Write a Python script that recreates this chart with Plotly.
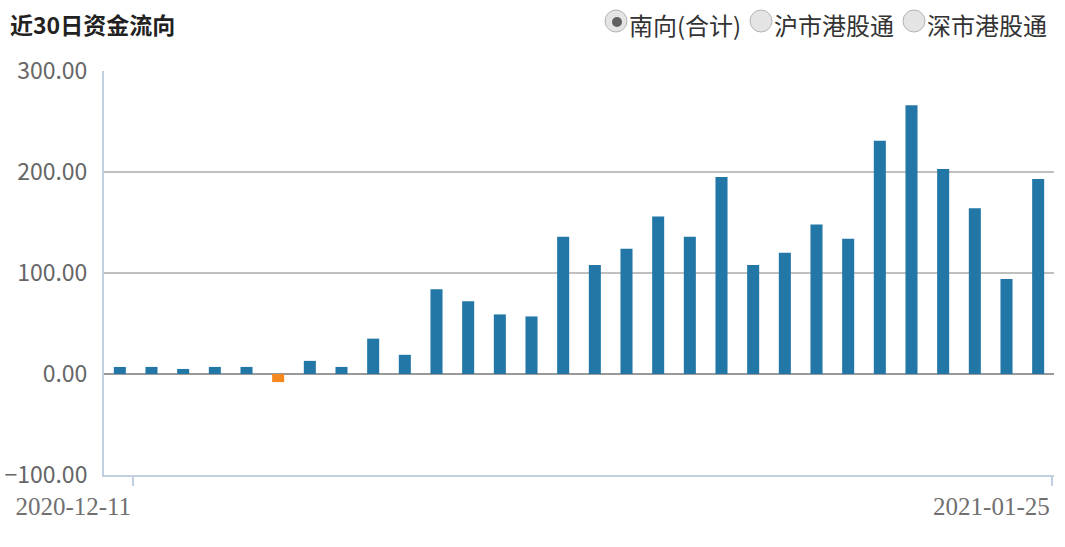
import plotly.graph_objects as go

W, H = 1065, 547
L, R, T, B = 104, 11, 71, 72

# trading days of the last 30 sessions
dates = ['2020-12-11', '2020-12-14', '2020-12-15', '2020-12-16', '2020-12-17',
         '2020-12-18', '2020-12-21', '2020-12-22', '2020-12-23', '2020-12-24',
         '2020-12-28', '2020-12-29', '2020-12-30', '2020-12-31', '2021-01-04',
         '2021-01-05', '2021-01-06', '2021-01-07', '2021-01-08', '2021-01-11',
         '2021-01-12', '2021-01-13', '2021-01-14', '2021-01-15', '2021-01-18',
         '2021-01-19', '2021-01-20', '2021-01-21', '2021-01-22', '2021-01-25']

# southbound net flow (100m HKD)
net_flow = [7, 7, 5, 7, 7, -8, 13, 7, 35, 19,
            84, 72, 59, 57, 136, 108, 124, 156, 136, 195,
            108, 120, 148, 134, 231, 266, 203, 164, 94, 193]

y_ticks = [-100, 0, 100, 200, 300]
radio_labels = ['南向(合计)', '沪市港股通', '深市港股通']

BLUE = '#2277a6'
ORANGE = '#f5871f'


def px_x(p):
    return (p - L) / (W - L - R)


def px_y(p):
    return (H - B - p) / (H - T - B)


x_idx = list(range(len(dates)))
colors = [BLUE if v >= 0 else ORANGE for v in net_flow]

fig = go.Figure()
fig.add_trace(go.Bar(
    x=x_idx,
    y=net_flow,
    customdata=dates,
    marker=dict(color=colors, line=dict(width=0)),
    hovertemplate='%{customdata}<br>%{y:.2f}<extra></extra>',
))

fig.update_layout(
    width=W, height=H,
    margin=dict(l=L, r=R, t=T, b=B),
    plot_bgcolor='white', paper_bgcolor='white',
    bargap=0.62,
    showlegend=False,
    font=dict(family='Noto Sans CJK SC', color='#333333'),
)

fig.update_xaxes(
    automargin=False,
    range=[-0.5, len(dates) - 0.5],
    tickvals=[0.42, len(dates) - 0.57],
    ticktext=[dates[0], dates[-1]],
    ticklabelposition='outside left',
    ticklabelstandoff=8,
    ticks='outside', ticklen=9, tickwidth=2, tickcolor='#c0d0e0',
    tickfont=dict(family='Liberation Serif', size=25, color='#707070'),
    showline=True, linecolor='#c0d0e0', linewidth=2,
    showgrid=False, zeroline=False,
)

fig.update_yaxes(
    automargin=False,
    range=[-100, 300],
    tickvals=y_ticks,
    tickformat='.2f',
    tickfont=dict(family='Noto Sans CJK SC', size=23, color='#666666'),
    ticklabelstandoff=10,
    showgrid=True, gridcolor='#c0c0c0', gridwidth=1.5,
    zeroline=True, zerolinecolor='#999999', zerolinewidth=2,
    showline=True, linecolor='#c0d0e0', linewidth=2,
)

# title
fig.add_annotation(
    text='<b>近30日资金流向</b>', xref='paper', yref='paper',
    x=px_x(8), y=px_y(24), xanchor='left', yanchor='middle',
    showarrow=False, font=dict(size=23, color='#222222', family='Noto Sans CJK SC'),
)

# radio buttons
radio_cx = [616, 761, 914]
for i, (lab, cx) in enumerate(zip(radio_labels, radio_cx)):
    fig.add_shape(
        type='circle', xref='paper', yref='paper',
        xsizemode='pixel', ysizemode='pixel',
        xanchor=px_x(cx), yanchor=px_y(21),
        x0=-11, x1=11, y0=-11, y1=11,
        fillcolor='#e4e4e4', line=dict(color='#b4b4b4', width=1),
    )
    if i == 0:
        fig.add_shape(
            type='circle', xref='paper', yref='paper',
            xsizemode='pixel', ysizemode='pixel',
            xanchor=px_x(cx + 1), yanchor=px_y(22),
            x0=-5, x1=5, y0=-5, y1=5,
            fillcolor='#606060', line=dict(width=0),
        )
    fig.add_annotation(
        text=lab, xref='paper', yref='paper',
        x=px_x(cx + 11), y=px_y(25), xanchor='left', yanchor='middle',
        showarrow=False, font=dict(size=24, color='#333333', family='Noto Sans CJK SC'),
    )

# drop the default page margin so the figure sits at the window's corner
fig.write_html('out.html', config={'displayModeBar': False},
               post_script="document.body.style.margin='0';")
